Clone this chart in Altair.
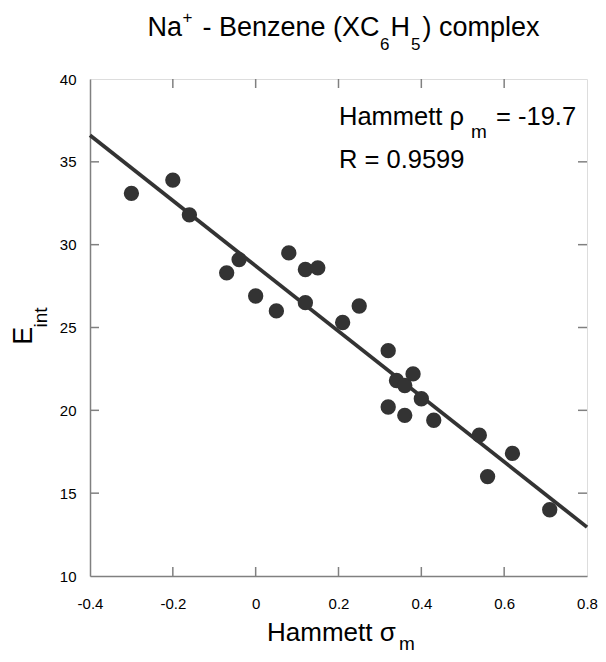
import altair as alt
import pandas as pd

# data
sigma_m = [-0.30, -0.20, -0.16, -0.07, -0.04, 0.00, 0.05, 0.08, 0.12, 0.15, 0.12,
           0.21, 0.25, 0.32, 0.34, 0.36, 0.38, 0.40, 0.32, 0.36, 0.43, 0.54, 0.62, 0.56, 0.71]
e_int = [33.1, 33.9, 31.8, 28.3, 29.1, 26.9, 26.0, 29.5, 28.5, 28.6, 26.5,
         25.3, 26.3, 23.6, 21.8, 21.5, 22.2, 20.7, 20.2, 19.7, 19.4, 18.5, 17.4, 16.0, 14.0]
fit_x = [-0.4, 0.8]
fit_y = [36.6, 12.95]
x_ticks = [-0.4, -0.2, 0.0, 0.2, 0.4, 0.6, 0.8]
y_ticks = [10, 15, 20, 25, 30, 35, 40]
x_inner_ticks = [-0.2, 0.0, 0.2, 0.4, 0.6]
y_inner_ticks = [15, 20, 25, 30, 35]

W, H = 497, 497
FONT = "Liberation Sans"
INK = "#333333"
FRAME = "#808080"

pts = pd.DataFrame({"s": sigma_m, "e": e_int})
fit = pd.DataFrame({"s": fit_x, "e": fit_y})
xt = pd.DataFrame({"s": x_inner_ticks})
yt = pd.DataFrame({"e": y_inner_ticks})

xscale = alt.Scale(domain=[-0.4, 0.8], nice=False, zero=False)
yscale = alt.Scale(domain=[10, 40], nice=False, zero=False)

xaxis = alt.Axis(values=x_ticks, title=None, ticks=False, tickSize=0, grid=False,
                 domainColor=FRAME, domainWidth=1.5, labelFontSize=15, labelFont=FONT,
                 labelColor="black", labelPadding=20, labelFlush=False,
                 labelExpr="datum.value == 0 ? '0' : replace(format(datum.value, '.1f'), '\u2212', '-')")
yaxis = alt.Axis(values=y_ticks, title=None, ticks=False, tickSize=0, grid=False,
                 domainColor=FRAME, domainWidth=1.5, labelFontSize=15, labelFont=FONT,
                 labelColor="black", labelPadding=14, labelFlush=False)

points = alt.Chart(pts).mark_circle(size=235, opacity=1, color=INK).encode(
    x=alt.X("s:Q", scale=xscale, axis=xaxis),
    y=alt.Y("e:Q", scale=yscale, axis=yaxis),
)
line = alt.Chart(fit).mark_line(color=INK, strokeWidth=3.8).encode(
    x=alt.X("s:Q", scale=xscale), y=alt.Y("e:Q", scale=yscale))

tb = alt.Chart(xt).mark_rule(color=FRAME, strokeWidth=1.5).encode(
    x=alt.X("s:Q", scale=xscale), y=alt.value(H), y2=alt.value(H - 9))
tt = alt.Chart(xt).mark_rule(color=FRAME, strokeWidth=1.5).encode(
    x=alt.X("s:Q", scale=xscale), y=alt.value(0), y2=alt.value(9))
tl = alt.Chart(yt).mark_rule(color=FRAME, strokeWidth=1.5).encode(
    y=alt.Y("e:Q", scale=yscale), x=alt.value(0), x2=alt.value(9))
tr = alt.Chart(yt).mark_rule(color=FRAME, strokeWidth=1.5).encode(
    y=alt.Y("e:Q", scale=yscale), x=alt.value(W), x2=alt.value(W - 9))


def txt(s, x, y, size, angle=0):
    kw = dict(text=s, font=FONT, fontSize=size, color="black", align="left",
              baseline="alphabetic")
    if angle:
        kw["angle"] = angle
    return alt.Chart(pd.DataFrame({"t": [s]})).mark_text(**kw).encode(
        x=alt.value(x), y=alt.value(y))


texts = [
    # title
    txt("Na", 57.5, -42.7, 27),
    txt("+", 92.5, -56, 17),
    txt("- Benzene (XC", 112.5, -42.7, 27),
    txt("6", 290, -29.3, 17),
    txt("H", 300.5, -42.7, 27),
    txt("5", 321, -29.3, 17),
    txt(") complex", 332.5, -42.7, 27),
    # x title
    txt("Hammett σ", 177, 562, 26),
    txt("m", 309, 571, 19),
    # y title
    txt("E", -58.3, 265.7, 27, angle=270),
    txt("int", -43.3, 248.5, 19, angle=270),
    # annotations
    txt("Hammett ρ", 249, 45.7, 25.5),
    txt("m", 381, 59, 19),
    txt("= -19.7", 406, 45.7, 25.5),
    txt("R = 0.9599", 249, 89, 25.5),
]

chart = alt.layer(line, points, tb, tt, tl, tr, *texts).properties(
    width=W, height=H,
    autosize=alt.AutoSizeParams(type="none"),
    padding={"left": 82, "top": 71, "right": 11, "bottom": 78},
).configure_view(stroke=FRAME, strokeWidth=1.5).configure(background="white")

chart.save("out.html", embed_options={"renderer": "svg", "actions": False})
